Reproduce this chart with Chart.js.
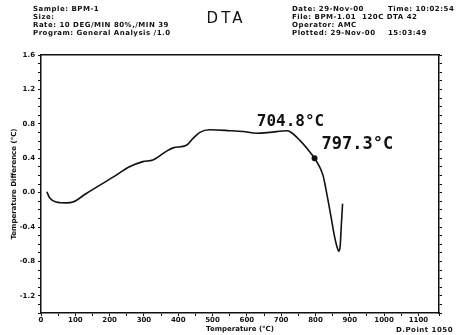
<!DOCTYPE html>
<html>
<head>
<meta charset="utf-8">
<script src="https://cdn.jsdelivr.net/npm/chart.js@4.4.0/dist/chart.umd.min.js"></script>
<style>
html, body { margin: 0; padding: 0; background: #fff; }
</style>
</head>
<body>
<canvas id="dtaChart" width="460" height="335"></canvas>
<script>
// DTA run, temperature difference vs furnace temperature
var temps = [17, 25, 44, 74, 93, 132, 210, 258, 297, 326, 365, 385, 424, 443, 463, 492,
             550, 589, 628, 667, 716, 725, 754, 778, 797.3, 812, 822, 830, 838, 847, 855,
             862, 868, 872, 875, 879];
var diffs = [0.01, -0.06, -0.11, -0.12, -0.11, -0.01, 0.18, 0.30, 0.36, 0.38, 0.48, 0.52, 0.55, 0.63, 0.70, 0.73,
             0.72, 0.71, 0.69, 0.70, 0.72, 0.71, 0.61, 0.50, 0.40, 0.30, 0.20, 0.05, -0.12, -0.32, -0.50,
             -0.62, -0.68, -0.62, -0.40, -0.13];

// marked temperatures
var peakTemp = 704.8;
var markTemp = 797.3;

var headerLeft = ['Sample: BPM-1', 'Size:', 'Rate: 10 DEG/MIN 80%,/MIN 39', 'Program: General Analysis /1.0'];
var headerRight = ['Date: 29-Nov-00', 'File: BPM-1.01  120C DTA 42', 'Operator: AMC', 'Plotted: 29-Nov-00'];
var headerRightTail = ['Time: 10:02:54', '', '', '15:03:49'];
var headerRows = [9, 17, 25, 33];

var points = [];
for (var i = 0; i < temps.length; i++) {
    points.push({x: temps[i], y: diffs[i]});
}

// text drawn around the plot: header block, title and the two temperature notes
var dtaText = {
    id: 'dtaText',
    afterDraw: function(chart) {
        var ctx = chart.ctx;
        var xs = chart.scales.x;
        var ys = chart.scales.y;
        ctx.save();
        ctx.fillStyle = '#111';
        ctx.textBaseline = 'middle';
        ctx.font = 'bold 7px "DejaVu Sans"';
        ctx.letterSpacing = '0.5px';
        for (var i = 0; i < headerLeft.length; i++) {
            ctx.fillText(headerLeft[i], 33, headerRows[i]);
            ctx.fillText(headerRight[i], 292, headerRows[i]);
            ctx.fillText(headerRightTail[i], 388, headerRows[i]);
        }
        ctx.fillText('D.Point 1050', 396, 330);

        ctx.font = '15px "DejaVu Sans"';
        ctx.letterSpacing = '3px';
        ctx.textAlign = 'center';
        ctx.fillText('DTA', 226, 19);
        ctx.letterSpacing = '0px';

        ctx.textAlign = 'left';
        ctx.font = 'bold 16px "DejaVu Sans Mono"';
        var px = xs.getPixelForValue(peakTemp);
        var py = ys.getPixelForValue(0.72);
        ctx.fillText(peakTemp.toFixed(1) + '°C', px - 26, py - 9);

        var mx = xs.getPixelForValue(markTemp);
        var my = ys.getPixelForValue(diffs[temps.indexOf(markTemp)]);
        ctx.font = 'bold 17px "DejaVu Sans Mono"';
        ctx.fillText(markTemp.toFixed(1) + '°C', mx + 7, my - 14);
        ctx.restore();
    }
};

var tickFont = {family: 'DejaVu Sans', size: 7, weight: 'bold'};

new Chart(document.getElementById('dtaChart'), {
    type: 'line',
    data: {
        datasets: [{
            data: points,
            borderColor: '#111',
            borderWidth: 1.6,
            backgroundColor: '#111',
            cubicInterpolationMode: 'monotone',
            pointRadius: temps.map(function(t) { return t === markTemp ? 2.2 : 0; }),
            fill: false
        }]
    },
    options: {
        responsive: false,
        animation: false,
        layout: {padding: 0},
        plugins: {legend: {display: false}, tooltip: {enabled: false}},
        scales: {
            x: {
                type: 'linear',
                position: 'bottom',
                min: 0,
                max: 1160,
                afterFit: function(s) { s.height = 22; },
                border: {color: '#111', width: 1.5},
                grid: {drawOnChartArea: false, color: '#111', tickLength: 3},
                ticks: {
                    stepSize: 50,
                    autoSkip: false,
                    maxRotation: 0,
                    padding: 0,
                    color: '#111',
                    font: tickFont,
                    callback: function(v) { return (v % 100 === 0 && v <= 1100) ? String(v) : ''; }
                },
                title: {display: true, text: 'Temperature (°C)', color: '#111', font: tickFont, padding: {top: 0, bottom: 2}}
            },
            xTop: {
                type: 'linear',
                position: 'top',
                min: 0,
                max: 1160,
                afterFit: function(s) { s.height = 55; },
                border: {color: '#111', width: 1.5},
                grid: {display: false},
                ticks: {display: false}
            },
            y: {
                position: 'left',
                min: -1.4,
                max: 1.6,
                afterFit: function(s) { s.width = 41; },
                border: {color: '#111', width: 1.5},
                grid: {drawOnChartArea: false, color: '#111', tickLength: 3},
                ticks: {
                    stepSize: 0.1,
                    autoSkip: false,
                    padding: 3,
                    color: '#111',
                    font: tickFont,
                    callback: function(v) {
                        var r = Math.round(v * 10);
                        return r % 4 === 0 ? (r / 10).toFixed(1) : '';
                    }
                },
                title: {display: true, text: 'Temperature Difference (°C)', color: '#111', font: tickFont, padding: {top: 10, bottom: 0}}
            },
            yRight: {
                position: 'right',
                min: -1.4,
                max: 1.6,
                afterFit: function(s) { s.width = 21; },
                border: {color: '#111', width: 1.5},
                grid: {drawOnChartArea: false, color: '#111', tickLength: 3},
                ticks: {stepSize: 0.1, autoSkip: false, callback: function() { return ''; }}
            }
        }
    },
    plugins: [dtaText]
});
</script>
</body>
</html>
